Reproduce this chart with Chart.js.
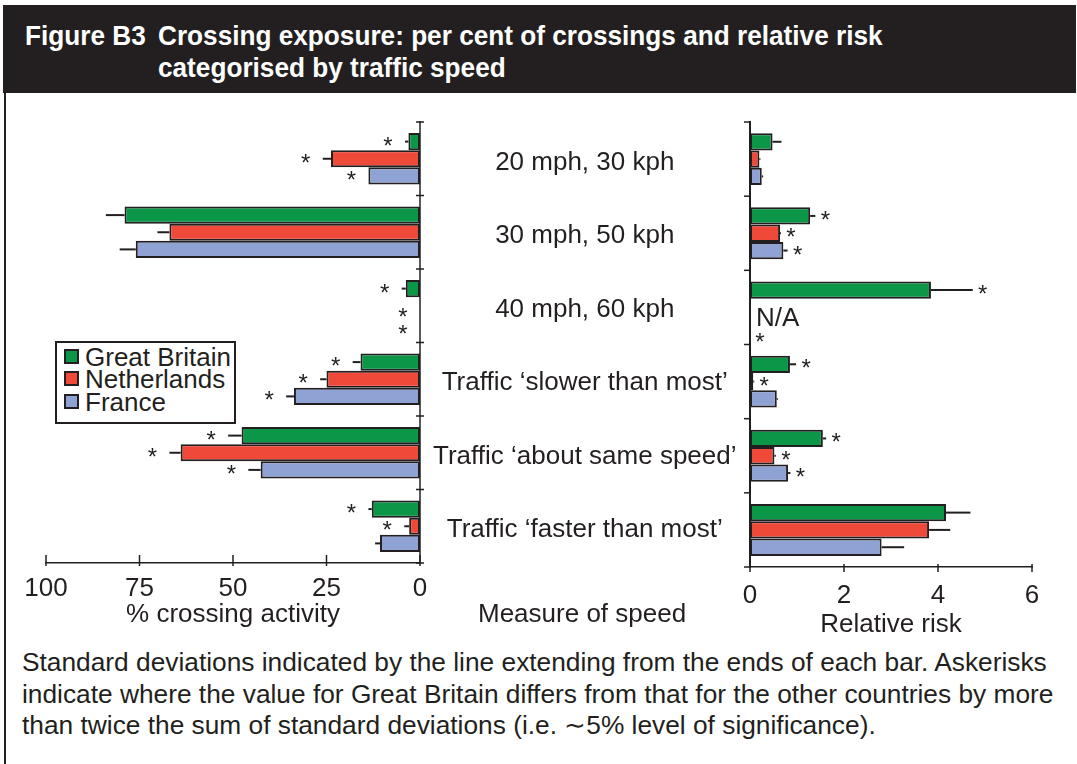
<!DOCTYPE html>
<html>
<head>
<meta charset="utf-8">
<script src="https://cdn.jsdelivr.net/npm/chart.js@4.4.0/dist/chart.umd.min.js"></script>
<style>
  body { margin: 0; width: 1077px; height: 764px; background: #fff; position: relative; overflow: hidden;
         font-family: "Liberation Sans", Arial, sans-serif; color: #231f20; }
  #head { position: absolute; left: 3px; top: 5px; width: 1073px; height: 88px; background: #231f20; }
  #head span { position: absolute; color: #fff; font-weight: bold; font-size: 28px; line-height: 32px;
               white-space: nowrap; transform: scaleX(0.935); transform-origin: 0 0; }
  #frame { position: absolute; left: 4px; top: 93px; width: 2px; height: 671px; background: #231f20; }
  canvas { position: absolute; }
  #left { left: 0; top: 100px; }
  #right { left: 700px; top: 100px; }
  .txt { position: absolute; font-size: 26px; line-height: 31px; white-space: nowrap; }
  .note { font-size: 26.3px; }
  #legend { position: absolute; left: 55px; top: 341px; width: 181px; height: 83px; box-sizing: border-box;
            border: 2px solid #231f20; background: #fff; }
  #legend .row { position: absolute; left: 0; height: 23px; font-size: 26px; line-height: 23px; white-space: nowrap; }
  #legend .sw { position: absolute; left: 7px; top: 3px; width: 15px; height: 15px; box-sizing: border-box;
                border: 2px solid #231f20; }
  #legend .lab { position: absolute; left: 28px; top: 0; }
</style>
</head>
<body>
<div id="head">
  <span style="left:22px; top:15px">Figure B3</span>
  <span style="left:155px; top:15px">Crossing exposure: per cent of crossings and relative risk</span>
  <span style="left:155px; top:47px">categorised by traffic speed</span>
</div>
<div id="frame"></div>
<canvas id="left" width="750" height="540"></canvas>
<canvas id="right" width="377" height="545"></canvas>
<div id="legend"></div>
<div class="txt" style="left:478px; top:598px">Measure of speed</div>
<div class="txt note" style="left:22px; top:647px">Standard deviations indicated by the line extending from the ends of each bar. Askerisks</div>
<div class="txt note" style="left:22px; top:679px">indicate where the value for Great Britain differs from that for the other countries by more</div>
<div class="txt note" style="left:22px; top:710px">than twice the sum of standard deviations (i.e. ∼5% level of significance).</div>
<script>
// speed categories, top to bottom
const categories = [
  '20 mph, 30 kph',
  '30 mph, 50 kph',
  '40 mph, 60 kph',
  'Traffic ‘slower than most’',
  'Traffic ‘about same speed’',
  'Traffic ‘faster than most’'
];
const countries = ['Great Britain', 'Netherlands', 'France'];
const countryColours = ['#0b9648', '#ef493a', '#8fa2d4'];

// % crossing activity per country, with standard deviations
const gbCrossing = [3.1, 79, 3.8, 15.9, 47.7, 12.9];
const nlCrossing = [23.8, 67, null, 25, 64, 2.9];
const frCrossing = [13.8, 76, null, 33.7, 42.6, 10.7];
const gbCrossingSd = [0.9, 5, 1.1, 2.1, 3.6, 0.9];
const nlCrossingSd = [2.2, 3.2, 0, 1.7, 3, 1.3];
const frCrossingSd = [0, 4.3, 0, 2.1, 3.3, 1.3];
// 1 = GB differs significantly (asterisk)
const gbCrossingSig = [1, 0, 1, 1, 1, 1];
const nlCrossingSig = [1, 0, 1, 1, 1, 1];
const frCrossingSig = [1, 0, 1, 1, 1, 0];

// relative risk per country, with standard deviations
const gbRisk = [0.48, 1.28, 3.85, 0.85, 1.55, 4.17];
const nlRisk = [0.2, 0.64, null, 0.07, 0.52, 3.81];
const frRisk = [0.25, 0.71, null, 0.57, 0.81, 2.8];
const gbRiskSd = [0.19, 0.11, 0.89, 0.13, 0.07, 0.52];
const nlRiskSd = [0.02, 0.02, 0, 0.02, 0.03, 0.45];
const frRiskSd = [0.03, 0.09, 0, 0.02, 0.05, 0.48];
const gbRiskSig = [0, 1, 1, 1, 1, 0];
const nlRiskSig = [0, 1, 0, 1, 1, 0];
const frRiskSig = [0, 1, 1, 0, 1, 0];
// no Dutch figure for 40 mph roads
const nlRiskNA = [0, 0, 1, 0, 0, 0];
const frRiskNA = [0, 0, 0, 0, 0, 0];
const gbRiskNA = [0, 0, 0, 0, 0, 0];

const crossingTicks = [100, 75, 50, 25, 0];
const riskTicks = [0, 2, 4, 6];

const INK = '#231f20';
const FONT = '"Liberation Sans", Arial, sans-serif';
Chart.defaults.font.family = FONT;
Chart.defaults.font.size = 26;
Chart.defaults.color = INK;

// legend built from the series names / colours
const legendEl = document.getElementById('legend');
countries.forEach((name, i) => {
  const row = document.createElement('div');
  row.className = 'row';
  row.style.top = (2.5 + i * 22.5) + 'px';
  row.innerHTML = `<div class="sw" style="background:${countryColours[i]}"></div><div class="lab">${name}</div>`;
  legendEl.appendChild(row);
});

function makeDatasets(values) {
  return values.map((data, i) => ({
    label: countries[i],
    data,
    backgroundColor: countryColours[i],
    borderColor: INK,
    borderWidth: 2,
    borderSkipped: false,
    categoryPercentage: 0.7,
    barPercentage: 1
  }));
}

// error lines, asterisks, N/A notes and the little axis ticks
const barExtras = {
  id: 'barExtras',
  afterDraw(chart, args, opts) {
    const ctx = chart.ctx;
    const xs = chart.scales.x, ys = chart.scales.y;
    const dir = xs.options.reverse ? -1 : 1;
    const zero = xs.getPixelForValue(0);
    ctx.save();
    ctx.strokeStyle = INK;
    ctx.fillStyle = INK;
    ctx.lineWidth = 2;
    chart.data.datasets.forEach((ds, i) => {
      const meta = chart.getDatasetMeta(i);
      meta.data.forEach((bar, j) => {
        const v = ds.data[j];
        const sd = opts.sd[i][j] || 0;
        let end = zero;
        let dy = opts.starDy;
        if (v != null) {
          end = xs.getPixelForValue(v + sd);
          if (sd > 0) {
            ctx.beginPath();
            ctx.moveTo(bar.x, bar.y);
            ctx.lineTo(end, bar.y);
            ctx.stroke();
          }
        } else {
          dy = opts.nullDy;
          if (opts.na && opts.na[i][j]) {
            ctx.font = '26px ' + FONT;
            ctx.textAlign = 'left';
            ctx.textBaseline = 'middle';
            ctx.fillText('N/A', zero + 6, bar.y + dy);
          }
        }
        if (opts.sig[i][j]) {
          ctx.font = '24px ' + FONT;
          ctx.textAlign = 'center';
          ctx.textBaseline = 'alphabetic';
          ctx.fillText('*', end + dir * opts.gap, bar.y + dy + 14);
        }
      });
    });

    // value axis ticks
    ctx.lineWidth = 1.5;
    const ay = chart.chartArea.bottom;
    xs.ticks.forEach(t => {
      const px = xs.getPixelForValue(t.value);
      ctx.beginPath();
      ctx.moveTo(px, ay - opts.xTick[0]);
      ctx.lineTo(px, ay + opts.xTick[1]);
      ctx.stroke();
    });
    // category boundary ticks
    const ax = opts.yAxisAtRight ? chart.chartArea.right : chart.chartArea.left;
    for (let k = 0; k <= categories.length; k++) {
      const py = ys.getPixelForValue(k - 0.5);
      ctx.beginPath();
      ctx.moveTo(ax - opts.yTick[0], py);
      ctx.lineTo(ax + opts.yTick[1], py);
      ctx.stroke();
    }
    ctx.restore();
  }
};

// left panel: share of crossings, bars growing leftwards
new Chart(document.getElementById('left'), {
  type: 'bar',
  data: { labels: categories, datasets: makeDatasets([gbCrossing, nlCrossing, frCrossing]) },
  options: {
    indexAxis: 'y',
    responsive: false,
    animation: false,
    layout: { padding: { left: 46, top: 22, right: 0, bottom: 0 } },
    plugins: {
      legend: { display: false },
      tooltip: { enabled: false },
      barExtras: {
        sd: [gbCrossingSd, nlCrossingSd, frCrossingSd],
        sig: [gbCrossingSig, nlCrossingSig, frCrossingSig],
        gap: 17, starDy: -2, nullDy: 5,
        xTick: [8, 3], yTick: [4, 4], yAxisAtRight: true
      }
    },
    scales: {
      x: {
        min: 0, max: 100, reverse: true,
        afterBuildTicks: s => { s.ticks = crossingTicks.map(v => ({ value: v })); },
        afterFit: s => { s.height = 77; },
        grid: { display: false, drawTicks: false },
        border: { display: true, color: INK, width: 1.5 },
        ticks: { padding: 10, font: { size: 26 }, color: INK },
        title: { display: true, text: '% crossing activity', font: { size: 26 }, color: INK,
                 padding: { top: 0, bottom: 10 } }
      },
      y: {
        position: 'right',
        afterFit: s => { s.width = 330; },
        grid: { display: false, drawTicks: false },
        border: { display: true, color: '#58595b', width: 2 },
        ticks: { crossAlign: 'center', padding: 13, labelOffset: 4,
                 font: { size: 26, lineHeight: 0.5 }, color: INK }
      }
    }
  },
  plugins: [barExtras]
});

// right panel: relative risk
new Chart(document.getElementById('right'), {
  type: 'bar',
  data: { labels: categories, datasets: makeDatasets([gbRisk, nlRisk, frRisk]) },
  options: {
    indexAxis: 'y',
    responsive: false,
    animation: false,
    layout: { padding: { left: 50, top: 22, right: 45, bottom: 0 } },
    plugins: {
      legend: { display: false },
      tooltip: { enabled: false },
      barExtras: {
        sd: [gbRiskSd, nlRiskSd, frRiskSd],
        sig: [gbRiskSig, nlRiskSig, frRiskSig],
        na: [gbRiskNA, nlRiskNA, frRiskNA],
        gap: 10, starDy: -2, nullDy: 11,
        xTick: [3, 5], yTick: [6, 0], yAxisAtRight: false
      }
    },
    scales: {
      x: {
        min: 0, max: 6,
        afterBuildTicks: s => { s.ticks = riskTicks.map(v => ({ value: v })); },
        afterFit: s => { s.height = 78; },
        grid: { display: false, drawTicks: false },
        border: { display: true, color: INK, width: 1.5 },
        ticks: { padding: 13, font: { size: 26 }, color: INK },
        title: { display: true, text: 'Relative risk', font: { size: 26 }, color: INK,
                 padding: { top: 0, bottom: 5 } }
      },
      y: {
        afterFit: s => { s.width = 0; },
        grid: { display: false, drawTicks: false },
        border: { display: true, color: INK, width: 2 },
        ticks: { display: false }
      }
    }
  },
  plugins: [barExtras]
});
</script>
</body>
</html>
